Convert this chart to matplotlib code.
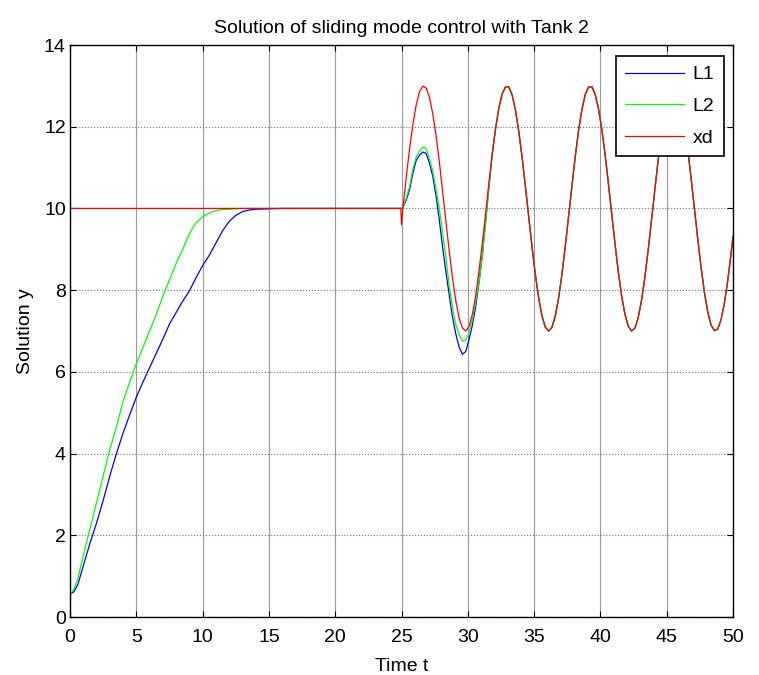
import numpy as np
import matplotlib
matplotlib.use("Agg")
import matplotlib.pyplot as plt

plt.rcParams['font.family'] = ['Liberation Sans', 'DejaVu Sans']

# start-up phase
t_L1_start = [0, 0.3, 0.6, 1.0, 1.5, 2.0, 2.5, 3.0, 3.5, 4.0, 4.5, 5.0, 5.5, 6.0, 6.5, 7.0,
              7.5, 8.0, 8.5, 9.0, 9.5, 10.0, 10.5, 11.0, 11.5, 12.0, 12.5, 13.0, 13.5, 14.0,
              15.0, 16.0, 25.0]
L1_start = [0.55, 0.62, 0.8, 1.25, 1.8, 2.3, 2.85, 3.45, 4.0, 4.5, 4.95, 5.38, 5.75, 6.1, 6.45, 6.8,
            7.17, 7.45, 7.73, 7.98, 8.3, 8.6, 8.85, 9.15, 9.45, 9.68, 9.83, 9.92, 9.96, 9.98,
            9.99, 10.0, 10.0]
t_L2_start = [0, 0.3, 0.6, 1.0, 1.5, 2.0, 2.5, 3.0, 3.5, 4.0, 4.5, 5.0, 5.5, 6.0, 6.5, 7.0,
              7.5, 8.0, 8.5, 9.0, 9.5, 10.0, 10.5, 11.0, 11.5, 12.0, 13.0, 25.0]
L2_start = [0.55, 0.68, 0.95, 1.5, 2.15, 2.8, 3.45, 4.1, 4.65, 5.28, 5.75, 6.2, 6.6, 7.0, 7.4, 7.85,
            8.25, 8.65, 9.0, 9.38, 9.65, 9.8, 9.88, 9.95, 9.97, 9.98, 10.0, 10.0]
t_xd_start = [0.0, 24.95, 25.0]
xd_start = [10.0, 10.0, 9.6]

# oscillating phase, sampled every 0.25 s from t = 25.1
t_osc = list(np.linspace(25.1, 49.85, 100)) + [50.0]
xd_osc = [10.00, 10.74, 11.44, 12.04, 12.52, 12.85, 12.99, 12.95, 12.73, 12.33,
          11.80, 11.15, 10.42, 9.68, 8.95, 8.29, 7.73, 7.31, 7.07, 7.00,
          7.12, 7.42, 7.88, 8.48, 9.16, 9.90, 10.65, 11.35, 11.97, 12.47,
          12.81, 12.98, 12.97, 12.77, 12.40, 11.87, 11.24, 10.52, 9.77, 9.04,
          8.37, 7.80, 7.36, 7.09, 7.00, 7.09, 7.37, 7.81, 8.39, 9.07,
          9.80, 10.55, 11.26, 11.90, 12.41, 12.78, 12.97, 12.98, 12.80, 12.45,
          11.95, 11.33, 10.62, 9.87, 9.14, 8.45, 7.86, 7.41, 7.12, 7.00,
          7.07, 7.32, 7.75, 8.31, 8.97, 9.70, 10.45, 11.17, 11.82, 12.35,
          12.74, 12.96, 12.99, 12.84, 12.51, 12.02, 11.41, 10.71, 9.97, 9.23,
          8.54, 7.93, 7.46, 7.14, 7.01, 7.05, 7.28, 7.68, 8.23, 8.88, 9.31]
# first 27 samples where L1 / L2 still lag behind xd
L1_osc_head = [10.02, 10.2, 10.45, 10.85, 11.17, 11.3, 11.38, 11.35, 11.12, 10.8,
               10.32, 9.72, 9.05, 8.45, 7.88, 7.33, 6.92, 6.6, 6.43, 6.5,
               6.8, 7.15, 7.6, 8.2, 8.88, 9.7, 10.55]
L2_osc_head = [10.02, 10.25, 10.52, 10.95, 11.25, 11.4, 11.5, 11.47, 11.22, 10.92,
               10.48, 10.0, 9.4, 8.8, 8.1, 7.55, 7.15, 6.9, 6.75, 6.78,
               6.95, 7.3, 7.72, 8.2, 8.85, 9.7, 10.55]

n = len(L1_osc_head)
t_L1 = t_L1_start + t_osc
L1 = L1_start + L1_osc_head + xd_osc[n:]
t_L2 = t_L2_start + t_osc
L2 = L2_start + L2_osc_head + xd_osc[n:]
t_xd = t_xd_start + t_osc
xd = xd_start + xd_osc

fig = plt.figure(figsize=(7.59, 6.75), dpi=100)
ax = fig.add_axes([70 / 759, 1 - 617 / 675, 663 / 759, 572 / 675])

ax.plot(t_L1, L1, color='#0000ff', lw=0.9, label='L1')
ax.plot(t_L2, L2, color='#00ff00', lw=0.9, label='L2')
ax.plot(t_xd, xd, color='#ff0000', lw=0.9, label='xd')

ax.set_xlim(0, 50)
ax.set_ylim(0, 14)
ax.set_xticks(np.arange(0, 51, 5))
ax.set_yticks(np.arange(0, 15, 2))
ax.grid(True, axis='x', color='#999999', lw=0.8, ls='-')
ax.grid(True, axis='y', color='#707070', lw=0.8, ls=':')
ax.tick_params(direction='in', length=4, width=0.8, top=True, right=True,
               labelsize=14)
ax.tick_params(axis='x', pad=9)
ax.tick_params(axis='y', pad=3)
for s in ax.spines.values():
    s.set_linewidth(1.0)

ax.set_title('Solution of sliding mode control with Tank 2', fontsize=14, pad=8.5)
ax.set_xlabel('Time t', fontsize=14, labelpad=8)
ax.set_ylabel('Solution y', fontsize=14, labelpad=7)

leg = ax.legend(loc='upper right', bbox_to_anchor=(724 / 759, 1 - 56 / 675),
                bbox_transform=fig.transFigure, borderaxespad=0, fancybox=False,
                framealpha=1, edgecolor='black', fontsize=14, handlelength=3.0,
                labelspacing=0.72, borderpad=0.5, handletextpad=0.45)
leg.get_frame().set_linewidth(1.2)

fig.savefig('out.png', dpi=100)
